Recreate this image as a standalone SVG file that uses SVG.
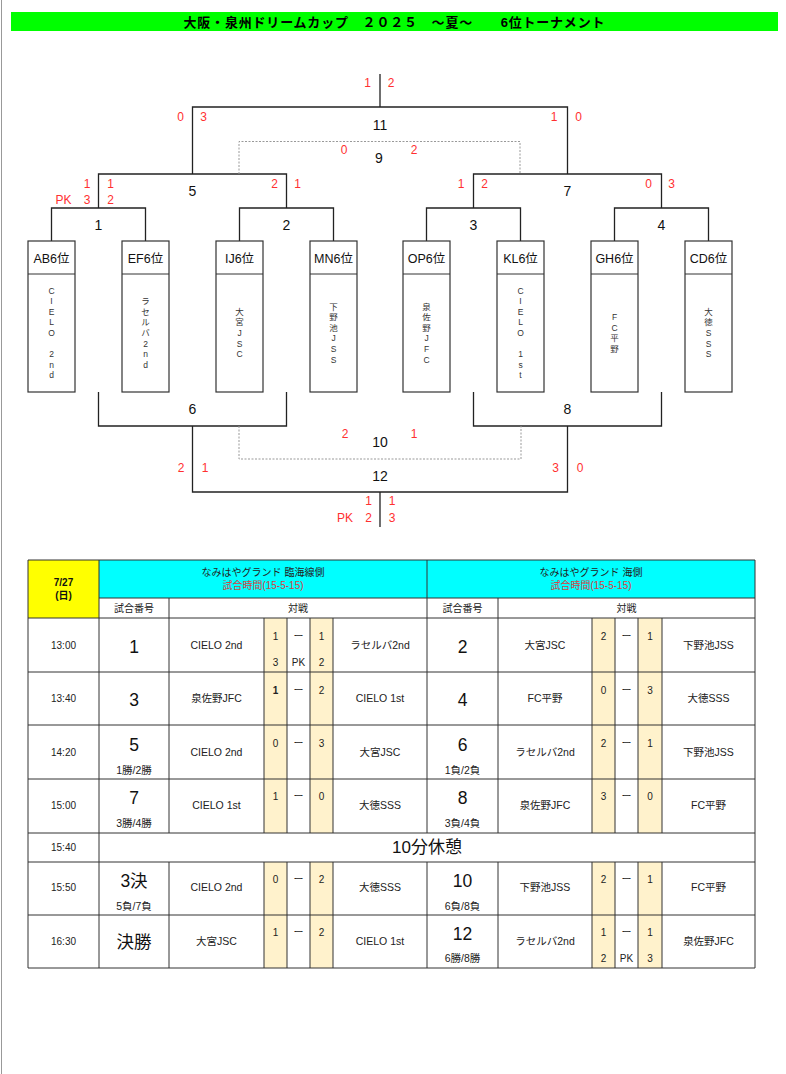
<svg xmlns="http://www.w3.org/2000/svg" width="786" height="1074" viewBox="0 0 786 1074">
<style>
text{font-family:"Liberation Sans","Noto Sans CJK JP",sans-serif;text-anchor:middle}
.ln{stroke:#222;stroke-width:1.3;fill:none}
.dot{stroke:#999;stroke-width:1;stroke-dasharray:2 1.5;fill:none}
.sc{font-size:12px;fill:#ff3030}
.mn{font-size:14px;fill:#111}
.box{fill:#fff;stroke:#333;stroke-width:1.2}
.hd{font-size:12.5px;fill:#111}
.vt{font-size:8.5px;fill:#333}
.g{stroke:#333;stroke-width:1;fill:none}
.t{font-size:10px;fill:#222}
.tm{font-size:10.5px;fill:#222}
.big{font-size:17.5px;fill:#111}
.sub{font-size:10.5px;fill:#222}
.cream{fill:#fff2cc}
</style>
<rect width="786" height="1074" fill="#fff"/>
<line x1="1.5" y1="0" x2="1.5" y2="1074" stroke="#999" stroke-width="1"/>
<g id="title">
<rect x="11" y="12" width="767" height="19" fill="#00ff00"/>
<text x="394" y="26.5" style="font-size:13px;font-weight:bold;fill:#000" textLength="421" lengthAdjust="spacing">大阪・泉州ドリームカップ　２０２５　～夏～　　6位トーナメント</text>
</g>
<g id="connectors">
<path class="ln" d="M380 74V107M192.5 174V107H567.5V174"/>
<path class="ln" d="M98.5 208V174H286.5V208M473.5 208V174H661.5V208"/>
<path class="ln" d="M51.5 241V208H145.5V241M239.5 241V208H333.5V241M426.5 241V208H520.5V241M614.5 241V208H708.5V241"/>
<path class="dot" d="M239 174V141.5H520V174"/>
<path class="ln" d="M98.5 392V426H286.5V392M473.5 392V426H661.5V392"/>
<path class="ln" d="M192.5 426V492H567.5V426M380 492V527"/>
<path class="dot" d="M239 426V459H521V426"/>
</g>
<g id="m11"><text class="mn" x="380" y="130">11</text>
<text class="sc" x="367.5" y="87">1</text><text class="sc" x="391" y="87">2</text>
<text class="sc" x="180.5" y="121">0</text><text class="sc" x="203.5" y="121">3</text>
<text class="sc" x="554" y="121">1</text><text class="sc" x="578.5" y="121">0</text></g>
<g id="m9"><text class="mn" x="379" y="163">9</text>
<text class="sc" x="344" y="154">0</text><text class="sc" x="414" y="154">2</text></g>
<g id="m5"><text class="mn" x="192.5" y="196">5</text>
<text class="sc" x="87" y="187.5">1</text><text class="sc" x="110.5" y="187.5">1</text>
<text class="sc" x="63.5" y="204">PK</text><text class="sc" x="87" y="204">3</text><text class="sc" x="110.5" y="204">2</text>
<text class="sc" x="274.5" y="187.5">2</text><text class="sc" x="297.5" y="187.5">1</text></g>
<g id="m7"><text class="mn" x="567.5" y="196">7</text>
<text class="sc" x="461" y="187.5">1</text><text class="sc" x="484.5" y="187.5">2</text>
<text class="sc" x="648.5" y="187.5">0</text><text class="sc" x="671.5" y="187.5">3</text></g>
<g id="m1"><text class="mn" x="98.5" y="230">1</text></g>
<g id="m2"><text class="mn" x="286.5" y="230">2</text></g>
<g id="m3"><text class="mn" x="473.5" y="230">3</text></g>
<g id="m4"><text class="mn" x="661.5" y="230">4</text></g>
<g id="m6"><text class="mn" x="192.5" y="414">6</text></g>
<g id="m8"><text class="mn" x="567.5" y="414">8</text></g>
<g id="m10"><text class="mn" x="380" y="447">10</text>
<text class="sc" x="345" y="438">2</text><text class="sc" x="414" y="438">1</text></g>
<g id="m12"><text class="mn" x="380" y="481">12</text>
<text class="sc" x="181" y="472">2</text><text class="sc" x="205" y="472">1</text>
<text class="sc" x="555.5" y="472">3</text><text class="sc" x="580" y="472">0</text>
<text class="sc" x="368.5" y="505">1</text><text class="sc" x="392" y="505">1</text>
<text class="sc" x="345" y="522">PK</text><text class="sc" x="368.5" y="522">2</text><text class="sc" x="392" y="522">3</text></g>

<g id="teamAB"><rect class="box" x="28" y="241" width="47" height="151"/><line class="g" x1="28" y1="274" x2="75" y2="274"/>
<text class="hd" x="51.5" y="263">AB6位</text>
<text class="vt"><tspan x="51.5" y="293.6">C</tspan><tspan x="51.5" y="304.2">I</tspan><tspan x="51.5" y="314.8">E</tspan><tspan x="51.5" y="325.4">L</tspan><tspan x="51.5" y="336">O</tspan><tspan x="51.5" y="357.2">2</tspan><tspan x="51.5" y="367.8">n</tspan><tspan x="51.5" y="378.4">d</tspan></text></g>
<g id="teamEF"><rect class="box" x="122" y="241" width="47" height="151"/><line class="g" x1="122" y1="274" x2="169" y2="274"/>
<text class="hd" x="145.5" y="263">EF6位</text>
<text class="vt"><tspan x="145.5" y="304.2">ラ</tspan><tspan x="145.5" y="314.8">セ</tspan><tspan x="145.5" y="325.4">ル</tspan><tspan x="145.5" y="336">バ</tspan><tspan x="145.5" y="346.6">2</tspan><tspan x="145.5" y="357.2">n</tspan><tspan x="145.5" y="367.8">d</tspan></text></g>
<g id="teamIJ"><rect class="box" x="216" y="241" width="47" height="151"/><line class="g" x1="216" y1="274" x2="263" y2="274"/>
<text class="hd" x="239.5" y="263">IJ6位</text>
<text class="vt"><tspan x="239.5" y="314.8">大</tspan><tspan x="239.5" y="325.4">宮</tspan><tspan x="239.5" y="336">J</tspan><tspan x="239.5" y="346.6">S</tspan><tspan x="239.5" y="357.2">C</tspan></text></g>
<g id="teamMN"><rect class="box" x="310" y="241" width="47" height="151"/><line class="g" x1="310" y1="274" x2="357" y2="274"/>
<text class="hd" x="333.5" y="263">MN6位</text>
<text class="vt"><tspan x="333.5" y="309.5">下</tspan><tspan x="333.5" y="320.1">野</tspan><tspan x="333.5" y="330.7">池</tspan><tspan x="333.5" y="341.3">J</tspan><tspan x="333.5" y="351.9">S</tspan><tspan x="333.5" y="362.5">S</tspan></text></g>
<g id="teamOP"><rect class="box" x="403" y="241" width="47" height="151"/><line class="g" x1="403" y1="274" x2="450" y2="274"/>
<text class="hd" x="426.5" y="263">OP6位</text>
<text class="vt"><tspan x="426.5" y="309.5">泉</tspan><tspan x="426.5" y="320.1">佐</tspan><tspan x="426.5" y="330.7">野</tspan><tspan x="426.5" y="341.3">J</tspan><tspan x="426.5" y="351.9">F</tspan><tspan x="426.5" y="362.5">C</tspan></text></g>
<g id="teamKL"><rect class="box" x="497" y="241" width="47" height="151"/><line class="g" x1="497" y1="274" x2="544" y2="274"/>
<text class="hd" x="520.5" y="263">KL6位</text>
<text class="vt"><tspan x="520.5" y="293.6">C</tspan><tspan x="520.5" y="304.2">I</tspan><tspan x="520.5" y="314.8">E</tspan><tspan x="520.5" y="325.4">L</tspan><tspan x="520.5" y="336">O</tspan><tspan x="520.5" y="357.2">1</tspan><tspan x="520.5" y="367.8">s</tspan><tspan x="520.5" y="378.4">t</tspan></text></g>
<g id="teamGH"><rect class="box" x="591" y="241" width="47" height="151"/><line class="g" x1="591" y1="274" x2="638" y2="274"/>
<text class="hd" x="614.5" y="263">GH6位</text>
<text class="vt"><tspan x="614.5" y="320.1">F</tspan><tspan x="614.5" y="330.7">C</tspan><tspan x="614.5" y="341.3">平</tspan><tspan x="614.5" y="351.9">野</tspan></text></g>
<g id="teamCD"><rect class="box" x="685" y="241" width="47" height="151"/><line class="g" x1="685" y1="274" x2="732" y2="274"/>
<text class="hd" x="708.5" y="263">CD6位</text>
<text class="vt"><tspan x="708.5" y="314.8">大</tspan><tspan x="708.5" y="325.4">徳</tspan><tspan x="708.5" y="336">S</tspan><tspan x="708.5" y="346.6">S</tspan><tspan x="708.5" y="357.2">S</tspan></text></g>

<g id="schedule">
<rect x="28" y="560" width="71" height="58" fill="#ffff00"/>
<rect x="99" y="560" width="656" height="38" fill="#00ffff"/>
<rect class="cream" x="264" y="618" width="23" height="215"/><rect class="cream" x="310" y="618" width="23" height="215"/>
<rect class="cream" x="592" y="618" width="23" height="215"/><rect class="cream" x="638" y="618" width="24" height="215"/>
<rect class="cream" x="264" y="862" width="23" height="106"/><rect class="cream" x="310" y="862" width="23" height="106"/>
<rect class="cream" x="592" y="862" width="23" height="106"/><rect class="cream" x="638" y="862" width="24" height="106"/>
<path class="g" d="M28 560H755M99 598H755M28 618H755M28 672H755M28 725H755M28 779H755M28 833H755M28 862H755M28 915H755M28 968H755"/>
<path class="g" d="M28 560V968M755 560V968M99 560V968M427 560V833M427 862V968M169 598V833M169 862V968M498 598V833M498 862V968"/>
<path class="g" d="M264 618V833M287 618V833M310 618V833M333 618V833M592 618V833M615 618V833M638 618V833M662 618V833"/>
<path class="g" d="M264 862V968M287 862V968M310 862V968M333 862V968M592 862V968M615 862V968M638 862V968M662 862V968"/>
<text x="63.5" y="586" style="font-size:10px;font-weight:bold;fill:#111">7/27</text>
<text x="63.5" y="599" style="font-size:10px;font-weight:bold;fill:#111">(日)</text>
<text class="t" x="263" y="576">なみはやグランド 臨海線側</text>
<text x="263" y="589" style="font-size:10px;fill:#d9413f">試合時間(15-5-15)</text>
<text class="t" x="591" y="576">なみはやグランド 海側</text>
<text x="591" y="589" style="font-size:10px;fill:#d9413f">試合時間(15-5-15)</text>
<text class="t" x="134" y="611.5">試合番号</text><text class="t" x="298" y="611.5">対戦</text>
<text class="t" x="462.5" y="611.5">試合番号</text><text class="t" x="626.5" y="611.5">対戦</text>

<text class="t" x="63.5" y="648.6">13:00</text>
<text class="big" x="134" y="653">1</text>
<text class="tm" x="216.5" y="648.6">CIELO 2nd</text>
<text class="t" x="275.5" y="640.3">1</text><text class="t" x="298.5" y="640.3">ー</text><text class="t" x="321.5" y="640.3">1</text>
<text class="t" x="275.5" y="666.3">3</text><text class="t" x="298.5" y="666.3">PK</text><text class="t" x="321.5" y="666.3">2</text>
<text class="tm" x="380" y="648.6">ラセルバ2nd</text>
<text class="big" x="462.5" y="653">2</text>
<text class="tm" x="545" y="648.6">大宮JSC</text>
<text class="t" x="603.5" y="640.3">2</text><text class="t" x="626.5" y="640.3">ー</text><text class="t" x="650" y="640.3">1</text>
<text class="tm" x="708.5" y="648.6">下野池JSS</text>

<text class="t" x="63.5" y="702">13:40</text>
<text class="big" x="134" y="705.5">3</text>
<text class="tm" x="216.5" y="702">泉佐野JFC</text>
<text class="t" x="275.5" y="693.6" style="font-weight:bold">1</text><text class="t" x="298.5" y="693.6">ー</text><text class="t" x="321.5" y="693.6">2</text>
<text class="tm" x="380" y="702">CIELO 1st</text>
<text class="big" x="462.5" y="705.5">4</text>
<text class="tm" x="545" y="702">FC平野</text>
<text class="t" x="603.5" y="693.6">0</text><text class="t" x="626.5" y="693.6">ー</text><text class="t" x="650" y="693.6">3</text>
<text class="tm" x="708.5" y="702">大徳SSS</text>

<text class="t" x="63.5" y="756">14:20</text>
<text class="big" x="134" y="750.5">5</text><text class="sub" x="134" y="774">1勝/2勝</text>
<text class="tm" x="216.5" y="756">CIELO 2nd</text>
<text class="t" x="275.5" y="747">0</text><text class="t" x="298.5" y="747">ー</text><text class="t" x="321.5" y="747">3</text>
<text class="tm" x="380" y="756">大宮JSC</text>
<text class="big" x="462.5" y="750.5">6</text><text class="sub" x="462.5" y="774">1負/2負</text>
<text class="tm" x="545" y="756">ラセルバ2nd</text>
<text class="t" x="603.5" y="747">2</text><text class="t" x="626.5" y="747">ー</text><text class="t" x="650" y="747">1</text>
<text class="tm" x="708.5" y="756">下野池JSS</text>

<text class="t" x="63.5" y="809.3">15:00</text>
<text class="big" x="134" y="803.8">7</text><text class="sub" x="134" y="827.3">3勝/4勝</text>
<text class="tm" x="216.5" y="809.3">CIELO 1st</text>
<text class="t" x="275.5" y="800.3">1</text><text class="t" x="298.5" y="800.3">ー</text><text class="t" x="321.5" y="800.3">0</text>
<text class="tm" x="380" y="809.3">大徳SSS</text>
<text class="big" x="462.5" y="803.8">8</text><text class="sub" x="462.5" y="827.3">3負/4負</text>
<text class="tm" x="545" y="809.3">泉佐野JFC</text>
<text class="t" x="603.5" y="800.3">3</text><text class="t" x="626.5" y="800.3">ー</text><text class="t" x="650" y="800.3">0</text>
<text class="tm" x="708.5" y="809.3">FC平野</text>

<text class="t" x="63.5" y="851">15:40</text>
<text x="427" y="853" style="font-size:17px;fill:#111">10分休憩</text>

<text class="t" x="63.5" y="891.3">15:50</text>
<text class="big" x="134" y="886.5">3決</text><text class="sub" x="134" y="910">5負/7負</text>
<text class="tm" x="216.5" y="891.3">CIELO 2nd</text>
<text class="t" x="275.5" y="882.6">0</text><text class="t" x="298.5" y="882.6">ー</text><text class="t" x="321.5" y="882.6">2</text>
<text class="tm" x="380" y="891.3">大徳SSS</text>
<text class="big" x="462.5" y="886.5">10</text><text class="sub" x="462.5" y="910">6負/8負</text>
<text class="tm" x="545" y="891.3">下野池JSS</text>
<text class="t" x="603.5" y="882.6">2</text><text class="t" x="626.5" y="882.6">ー</text><text class="t" x="650" y="882.6">1</text>
<text class="tm" x="708.5" y="891.3">FC平野</text>

<text class="t" x="63.5" y="945.3">16:30</text>
<text class="big" x="134" y="948.2">決勝</text>
<text class="tm" x="216.5" y="945.3">大宮JSC</text>
<text class="t" x="275.5" y="936.3">1</text><text class="t" x="298.5" y="936.3">ー</text><text class="t" x="321.5" y="936.3">2</text>
<text class="tm" x="380" y="945.3">CIELO 1st</text>
<text class="big" x="462.5" y="939.8">12</text><text class="sub" x="462.5" y="962.3">6勝/8勝</text>
<text class="tm" x="545" y="945.3">ラセルバ2nd</text>
<text class="t" x="603.5" y="936.3">1</text><text class="t" x="626.5" y="936.3">ー</text><text class="t" x="650" y="936.3">1</text>
<text class="t" x="603.5" y="962">2</text><text class="t" x="626.5" y="962">PK</text><text class="t" x="650" y="962">3</text>
<text class="tm" x="708.5" y="945.3">泉佐野JFC</text>
</g>
</svg>
